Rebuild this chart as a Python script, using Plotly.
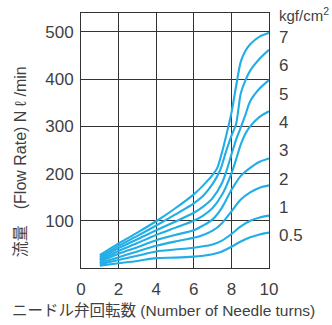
import plotly.graph_objects as go

# needle turns / flow rate, one curve per supply pressure
pressures = ["7", "6", "5", "4", "3", "2", "1", "0.5"]

turns_7 = [1, 2, 3, 4, 5, 6, 6.5, 7, 7.25, 7.5, 7.75, 8, 8.25, 8.5, 8.75, 9, 9.5, 10]
flow_7 = [27, 52, 75, 99, 126, 156, 175, 197, 212, 245, 285, 328, 385, 437, 460, 474, 490, 498]

turns_6 = [1, 2, 3, 4, 5, 6, 6.5, 7, 7.4, 7.7, 8, 8.25, 8.5, 8.75, 9, 9.5, 10]
flow_6 = [23, 47, 68, 90, 113, 137, 153, 178, 207, 245, 280, 305, 370, 398, 418, 443, 462]

turns_5 = [1, 2, 3, 4, 5, 6, 6.5, 7, 7.5, 7.75, 8, 8.25, 8.5, 8.75, 9, 9.5, 10]
flow_5 = [19, 42, 61, 80, 98, 117, 130, 148, 180, 207, 240, 272, 298, 325, 353, 380, 398]

turns_4 = [1, 2, 3, 4, 5, 6, 6.5, 7, 7.5, 8, 8.25, 8.5, 8.75, 9, 9.5, 10]
flow_4 = [16, 36, 53, 70, 85, 100, 111, 127, 155, 200, 230, 262, 285, 300, 320, 332]

turns_low = [1, 2, 3, 4, 5, 6, 6.5, 7, 7.5, 8, 8.5, 9, 9.5, 10]
flow_3 = [13, 30, 44, 59, 70, 80, 90, 103, 128, 165, 195, 212, 225, 232]
flow_2 = [10, 23, 35, 47, 56, 64, 70, 79, 95, 120, 145, 160, 170, 175]
flow_1 = [8, 17, 26, 35, 39, 43, 46, 50, 58, 72, 88, 100, 107, 111]
flow_05 = [5, 10, 15, 21, 22, 24, 26, 29, 35, 45, 56, 65, 71, 75]

curves = [
    (turns_7, flow_7), (turns_6, flow_6), (turns_5, flow_5), (turns_4, flow_4),
    (turns_low, flow_3), (turns_low, flow_2), (turns_low, flow_1), (turns_low, flow_05),
]

x_ticks = [0, 2, 4, 6, 8, 10]
y_ticks = [100, 200, 300, 400, 500]

TXT = "#3f3f3f"
FONT = "Liberation Sans, Arial, Noto Sans CJK JP"

fig = go.Figure()
for xs, ys in curves:
    fig.add_trace(go.Scatter(x=xs, y=ys, mode="lines",
                             line=dict(color="#22ade6", width=2.1, shape="spline", smoothing=0.8),
                             showlegend=False, hoverinfo="skip"))

# pressure labels stacked down the right side
ann = [dict(x=1.04, y=537, xref="paper", yref="y", xanchor="left", yanchor="middle",
            text="kgf/cm<sup>2</sup>", showarrow=False, font=dict(size=15, color=TXT))]
for i, p in enumerate(pressures):
    ann.append(dict(x=1.04, y=488 - 60 * i, xref="paper", yref="y", xanchor="left", yanchor="middle",
                    text=p, showarrow=False, font=dict(size=17, color=TXT)))
ann.append(dict(x=-0.324, y=0.415, xref="paper", yref="paper", textangle=-90,
                xanchor="center", yanchor="middle",
                text="流量　(Flow Rate) N ℓ /min", showarrow=False, font=dict(size=16, color=TXT)))
ann.append(dict(x=0.441, y=-0.165, xref="paper", yref="paper",
                xanchor="center", yanchor="middle",
                text="ニードル弁回転数 (Number of Needle turns)", showarrow=False,
                font=dict(size=15.5, color=TXT)))

fig.update_layout(
    width=332, height=325,
    margin=dict(l=81, r=63, t=13, b=57),
    plot_bgcolor="white", paper_bgcolor="white",
    font=dict(family=FONT, size=17, color=TXT),
    annotations=ann,
    xaxis=dict(range=[0, 10], tickvals=x_ticks, showgrid=True, gridcolor="#333", gridwidth=1,
               showline=True, mirror=True, linecolor="#333", linewidth=1, ticks="",
               ticklabelstandoff=6, zeroline=False, fixedrange=True),
    yaxis=dict(range=[0, 540], tickvals=y_ticks, showgrid=True, gridcolor="#333", gridwidth=1,
               showline=True, mirror=True, linecolor="#333", linewidth=1, ticks="",
               ticklabelstandoff=3, zeroline=False, fixedrange=True),
)

fig.write_html("out.html", config={"displayModeBar": False},
               post_script="document.body.style.margin='0';")
